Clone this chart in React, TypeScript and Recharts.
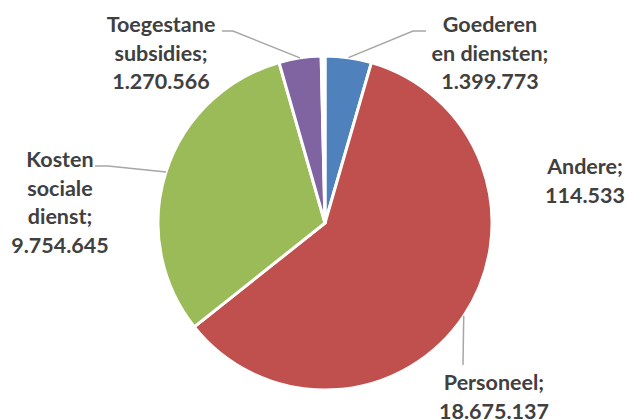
import { PieChart, Pie, Cell } from "recharts";

const categories = [
  "Goederen en diensten",
  "Personeel",
  "Kosten sociale dienst",
  "Toegestane subsidies",
  "Andere",
];
const amounts = [1399773, 18675137, 9754645, 1270566, 114533];
const colors = ["#4F81BD", "#C0504D", "#9BBB59", "#8064A2", "#FFFFFF"];

const data = categories.map((name, i) => ({ name, value: amounts[i] }));

// label text lines (value appended) and where they sit
const labelLayout: Record<
  string,
  { lines: string[]; x: number; y: number; leader?: [number, number][] }
> = {
  "Goederen en diensten": {
    lines: ["Goederen", "en diensten;"],
    x: 490,
    y: 32,
    leader: [[413, 31], [426, 31]],
  },
  Personeel: { lines: ["Personeel;"], x: 494, y: 390, leader: [[463, 365]] },
  "Kosten sociale dienst": {
    lines: ["Kosten", "sociale", "dienst;"],
    x: 60,
    y: 167,
    leader: [[108, 166], [95, 166]],
  },
  "Toegestane subsidies": {
    lines: ["Toegestane", "subsidies;"],
    x: 161,
    y: 32,
    leader: [[233, 31], [222, 31]],
  },
  Andere: { lines: ["Andere;"], x: 585, y: 174 },
};

const fmt = (v: number) => String(v).replace(/\B(?=(\d{3})+(?!\d))/g, ".");

const RAD = Math.PI / 180;

const renderLabel = (props: any) => {
  const { cx, cy, midAngle, outerRadius, name, value } = props;
  const lay = labelLayout[name];
  if (!lay) return null;
  const sx = cx + outerRadius * Math.cos(-midAngle * RAD);
  const sy = cy + outerRadius * Math.sin(-midAngle * RAD);
  const lines = [...lay.lines, fmt(value)];
  return (
    <g>
      {lay.leader && (
        <polyline
          points={[[sx, sy], ...lay.leader].map((p) => p.join(",")).join(" ")}
          fill="none"
          stroke="#A6A6A6"
          strokeWidth={1.5}
        />
      )}
      <text
        x={lay.x}
        y={lay.y}
        textAnchor="middle"
        fill="#404040"
        fontFamily="Lato"
        fontWeight={700}
        fontSize={21.5}
      >
        {lines.map((l, i) => (
          <tspan key={i} x={lay.x} dy={i === 0 ? 0 : 28.5}>
            {l}
          </tspan>
        ))}
      </text>
    </g>
  );
};

export default function App() {
  return (
    <div style={{ position: "absolute", left: 0, top: 0, background: "#fff" }}>
      <PieChart
        width={628}
        height={420}
        margin={{ top: 0, right: 0, bottom: 0, left: 0 }}
      >
        <Pie
          data={data}
          dataKey="value"
          nameKey="name"
          cx={325}
          cy={223}
          outerRadius={167}
          startAngle={90}
          endAngle={-270}
          stroke="#FFFFFF"
          strokeWidth={3}
          label={renderLabel}
          labelLine={false}
          isAnimationActive={false}
        >
          {data.map((d, i) => (
            <Cell key={d.name} fill={colors[i]} />
          ))}
        </Pie>
      </PieChart>
    </div>
  );
}
